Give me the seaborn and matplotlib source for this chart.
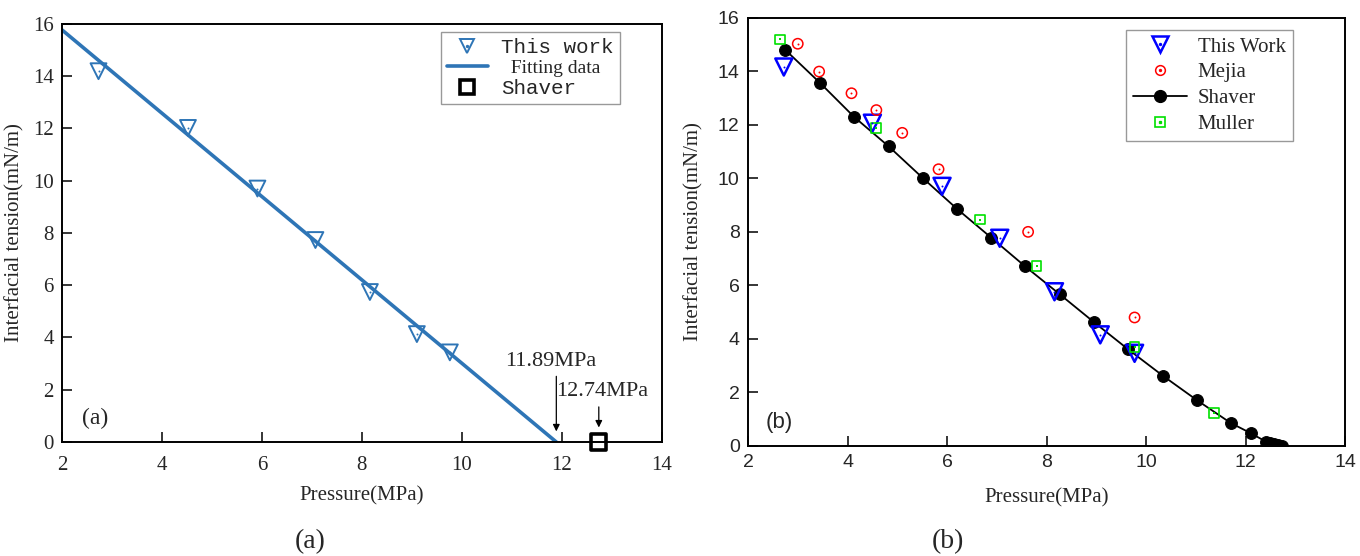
import numpy as np
import matplotlib
matplotlib.use("Agg")
import matplotlib.pyplot as plt
import seaborn as sns
from matplotlib.lines import Line2D

# ---------------- data ----------------
# panel (a)
a_work_p = [2.73, 4.52, 5.91, 7.07, 8.16, 9.10, 9.76]
a_work_t = [14.19, 12.02, 9.70, 7.73, 5.74, 4.13, 3.43]
a_fit_p = [2.0, 11.89]
a_fit_t = [15.77, 0.0]
a_shaver_p = [12.74]
a_shaver_t = [0.0]

# panel (b)
b_work_p = [2.72, 4.50, 5.90, 7.06, 8.16, 9.08, 9.77]
b_work_t = [14.16, 12.06, 9.70, 7.76, 5.76, 4.15, 3.46]
mejia_p = [3.00, 3.43, 4.08, 4.58, 5.10, 5.83, 7.63, 9.77]
mejia_t = [15.03, 13.99, 13.18, 12.55, 11.70, 10.34, 8.00, 4.80]
shaver_p = [2.75, 3.44, 4.13, 4.83, 5.52, 6.20, 6.89, 7.57, 8.27, 8.95, 9.64,
            10.34, 11.03, 11.70, 12.10, 12.42, 12.50, 12.58, 12.66, 12.74]
shaver_t = [14.80, 13.58, 12.30, 11.19, 10.00, 8.86, 7.78, 6.71, 5.66, 4.63, 3.61,
            2.62, 1.70, 0.86, 0.48, 0.15, 0.10, 0.06, 0.03, 0.00]
muller_p = [2.65, 4.58, 6.67, 7.80, 9.77, 11.37]
muller_t = [15.19, 11.89, 8.46, 6.71, 3.69, 1.22]

x_ticks = [2, 4, 6, 8, 10, 12, 14]
y_ticks = [0, 2, 4, 6, 8, 10, 12, 14, 16]

# ---------------- style ----------------
sns.set_style("white")
plt.rcParams['font.family'] = ['Liberation Serif', 'DejaVu Serif']

fig = plt.figure(figsize=(13.6, 5.56), dpi=100)
ax1 = fig.add_axes([0.0456, 0.205, 0.441, 0.752])
ax2 = fig.add_axes([0.550, 0.198, 0.439, 0.770])

blue_a = '#2E75B6'

for ax in (ax1, ax2):
    ax.set_xlim(2, 14)
    ax.set_ylim(0, 16)
    ax.set_xticks(x_ticks)
    ax.set_yticks(y_ticks)
    for sp in ax.spines.values():
        sp.set_visible(True)
        sp.set_color('black')
        sp.set_linewidth(1.4)
    ax.tick_params(direction='in', length=7, width=1.3, top=False, right=False,
                   bottom=True, left=True, pad=6)
ax1.tick_params(axis='x', pad=10)

# ---------------- panel (a) ----------------
sns.lineplot(x=a_fit_p, y=a_fit_t, ax=ax1, color=blue_a, lw=2.6, zorder=2)
sns.scatterplot(x=a_work_p, y=a_work_t, ax=ax1, marker='v', s=130,
                facecolor='none', edgecolor=blue_a, linewidth=1.4, zorder=3)
sns.scatterplot(x=a_work_p, y=a_work_t, ax=ax1, marker='o', s=2,
                color=blue_a, edgecolor=blue_a, linewidth=0, zorder=4)
sns.scatterplot(x=a_shaver_p, y=a_shaver_t, ax=ax1, marker='s', s=120,
                facecolor='none', edgecolor='black', linewidth=2.6,
                zorder=5, clip_on=False)

ax1.annotate('', xy=(11.89, 0.3), xytext=(11.89, 2.62),
             arrowprops=dict(arrowstyle='-|>', color='black', lw=0.9,
                             mutation_scale=10))
ax1.text(11.77, 3.1, '11.89MPa', ha='center', va='center', fontsize=16)
ax1.annotate('', xy=(12.74, 0.45), xytext=(12.74, 1.45),
             arrowprops=dict(arrowstyle='-|>', color='black', lw=0.9,
                             mutation_scale=10))
ax1.text(12.81, 1.95, '12.74MPa', ha='center', va='center', fontsize=16)
ax1.text(2.66, 0.92, '(a)', ha='center', va='center', fontsize=17)

for lab in ax1.get_xticklabels() + ax1.get_yticklabels():
    lab.set_fontsize(15)
ax1.set_xlabel('Pressure(MPa)', fontsize=15, labelpad=8)
ax1.set_ylabel('Interfacial tension(mN/m)', fontsize=15, labelpad=6)

h_work_a = (Line2D([], [], ls='none', marker='v', ms=10, mfc='none',
                   mec=blue_a, mew=1.4),
            Line2D([], [], ls='none', marker='o', ms=1.4, color=blue_a))
h_fit_a = Line2D([], [], color=blue_a, lw=2.6)
h_sh_a = Line2D([], [], ls='none', marker='s', ms=10, mfc='none',
                mec='black', mew=2.6)
leg1 = ax1.legend([h_work_a, h_fit_a, h_sh_a],
                  ['This work', '  Fitting data', 'Shaver'],
                  loc='upper right', bbox_to_anchor=(0.93, 0.981),
                  borderaxespad=0,
                  fontsize=14, frameon=True, fancybox=False, edgecolor='#808080',
                  handlelength=2.1, handletextpad=0.7, borderpad=0.3,
                  labelspacing=0.12)
leg1.get_frame().set_linewidth(1.0)
for t in leg1.get_texts():
    if t.get_text() != '  Fitting data':
        t.set_family(['Liberation Mono'])
        t.set_fontsize(15)
        t.set_fontweight('light')

# ---------------- panel (b) ----------------
sns.lineplot(x=shaver_p, y=shaver_t, ax=ax2, color='black', lw=1.3,
             marker='o', markersize=8.5, markeredgecolor='black', zorder=3,
             sort=False)
sns.scatterplot(x=b_work_p, y=b_work_t, ax=ax2, marker='v', s=150,
                facecolor='none', edgecolor='#0000FF', linewidth=1.8, zorder=4)
sns.scatterplot(x=b_work_p, y=b_work_t, ax=ax2, marker='o', s=2,
                color='#0000FF', edgecolor='#0000FF', linewidth=0, zorder=5)
sns.scatterplot(x=mejia_p, y=mejia_t, ax=ax2, marker='o', s=55,
                facecolor='none', edgecolor='#FF0000', linewidth=1.1, zorder=4)
sns.scatterplot(x=mejia_p, y=mejia_t, ax=ax2, marker='o', s=2,
                color='#FF0000', edgecolor='#FF0000', linewidth=0, zorder=5)
sns.scatterplot(x=muller_p, y=muller_t, ax=ax2, marker='s', s=50,
                facecolor='none', edgecolor='#00E000', linewidth=1.2, zorder=4)
sns.scatterplot(x=muller_p, y=muller_t, ax=ax2, marker='s', s=2,
                color='#00E000', edgecolor='#00E000', linewidth=0, zorder=5)

ax2.text(2.62, 0.86, '(b)', ha='center', va='center', fontsize=16,
         family=['Liberation Sans'])

for lab in ax2.get_xticklabels() + ax2.get_yticklabels():
    lab.set_fontsize(14)
    lab.set_family(['Liberation Sans'])
ax2.set_xlabel('Pressure(MPa)', fontsize=15, labelpad=12)
ax2.set_ylabel('Interfacial tension(mN/m)', fontsize=15, labelpad=10)

h_work_b = (Line2D([], [], ls='none', marker='v', ms=12, mfc='none',
                   mec='#0000FF', mew=1.8),
            Line2D([], [], ls='none', marker='o', ms=1.4, color='#0000FF'))
h_mej = (Line2D([], [], ls='none', marker='o', ms=7, mfc='none',
                mec='#FF0000', mew=1.1),
         Line2D([], [], ls='none', marker='o', ms=1.4, color='#FF0000'))
h_sh_b = Line2D([], [], color='black', lw=1.3, marker='o', ms=8.5)
h_mul = (Line2D([], [], ls='none', marker='s', ms=7, mfc='none',
                mec='#00E000', mew=1.2),
         Line2D([], [], ls='none', marker='s', ms=1.4, color='#00E000'))
leg2 = ax2.legend([h_work_b, h_mej, h_sh_b, h_mul],
                  ['This Work', 'Mejia', 'Shaver', 'Muller'],
                  loc='upper right', bbox_to_anchor=(0.913, 0.972),
                  borderaxespad=0,
                  fontsize=15, frameon=True, fancybox=False, edgecolor='#808080',
                  handlelength=2.6, handletextpad=0.5, borderpad=0.35,
                  labelspacing=0.3)
leg2.get_frame().set_linewidth(1.0)

# captions under panels
fig.text(310 / 1360, 1 - 542 / 556, '(a)', ha='center', va='center', fontsize=20)
fig.text(948 / 1360, 1 - 542 / 556, '(b)', ha='center', va='center', fontsize=20)

fig.savefig('out.png', dpi=100)
